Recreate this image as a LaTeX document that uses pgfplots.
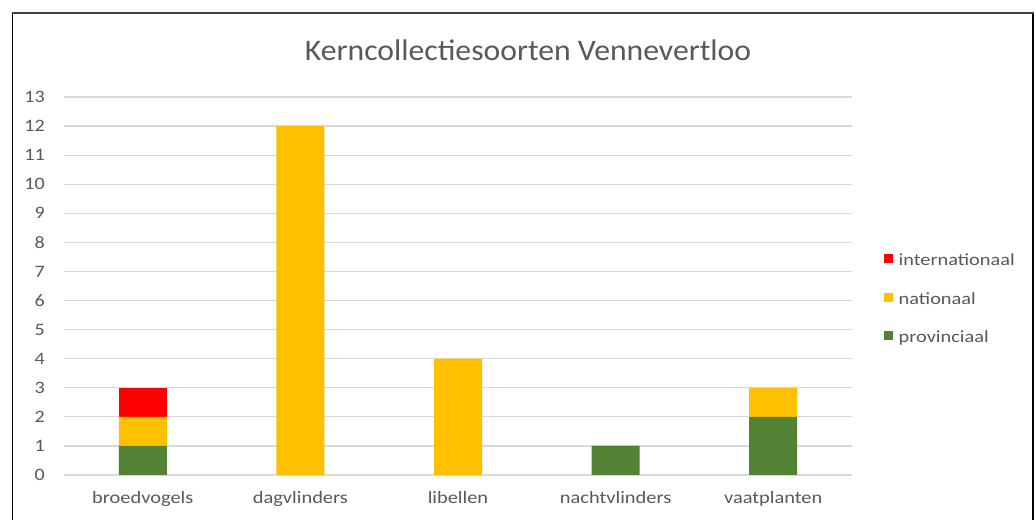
\documentclass[border=0pt]{standalone}
\usepackage{graphicx}
\usepackage{pgfplots}
\pgfplotsset{compat=1.18}
\usepackage{fontspec}
\setmainfont{Carlito}
\definecolor{cred}{HTML}{FF0000}
\definecolor{cyel}{HTML}{FFC000}
\definecolor{cgrn}{HTML}{548235}
\definecolor{ctxt}{HTML}{595959}
\definecolor{cgrid}{HTML}{D9D9D9}
\newcommand{\catlab}[1]{\scalebox{1.17}[1]{#1}}
\newcommand{\leglab}[1]{\hspace{6bp}\scalebox{1.2}[1]{#1}}
\begin{document}
\begin{tikzpicture}[x=1bp,y=1bp]
\useasboundingbox (0,0) rectangle (1036,520);
\fill[white] (0,0) rectangle (1036,520);
\begin{axis}[
  at={(64bp,45bp)}, anchor=south west,
  scale only axis, width=788bp, height=378bp,
  xmin=-0.5, xmax=4.5, ymin=0, ymax=13,
  ybar stacked, bar width=48bp,
  axis line style={draw=none},
  major tick length=0pt,
  ytick={0,1,...,13},
  xtick={0,1,2,3,4},
  xticklabels={\catlab{broedvogels},\catlab{dagvlinders},\catlab{libellen},\catlab{nachtvlinders},\catlab{vaatplanten}},
  yticklabel={\fontsize{17.5}{19}\selectfont\scalebox{1.15}[1]{\pgfmathprintnumber{\tick}}},
  ymajorgrids, grid style={cgrid, line width=1.2bp},
  /pgf/number format/assume math mode=true,
  tick label style={inner sep=0pt, text=ctxt},
  yticklabel shift=19bp,
  xticklabel style={font=\fontsize{17.5}{20}\selectfont, anchor=north},
  xticklabel shift=16bp,
  reverse legend,
  legend style={at={(1.04,0.463)}, anchor=west, draw=none, fill=none,
    inner sep=0pt, row sep=24bp,
    font=\fontsize{17}{19}\selectfont, text=ctxt,
    nodes={inner sep=0pt, text height=10bp, text depth=3bp},
    /tikz/every even column/.append style={column sep=0bp}},
  legend cell align=left,
  legend image code/.code={\fill[#1] (0bp,-1bp) rectangle (9bp,8bp);},
]
\addplot[fill=cgrn, draw=none] coordinates {(0,1) (1,0) (2,0) (3,1) (4,2)};
\addplot[fill=cyel, draw=none] coordinates {(0,1) (1,12) (2,4) (3,0) (4,1)};
\addplot[fill=cred, draw=none] coordinates {(0,1) (1,0) (2,0) (3,0) (4,0)};
\legend{\leglab{provinciaal},\leglab{nationaal},\leglab{internationaal}}
\end{axis}
\node[text=ctxt, font=\fontsize{30}{34}\selectfont] at (528,470) {\scalebox{1.06}[1]{Kerncollectiesoorten Vennevertloo}};
\draw[line width=1.6bp, black] (12.5,-2) -- (12.5,507);
\draw[line width=1.6bp, black] (1033,-2) -- (1033,507);
\draw[line width=1.8bp, black!75] (11.7,507) -- (1033.8,507);
\end{tikzpicture}
\end{document}
